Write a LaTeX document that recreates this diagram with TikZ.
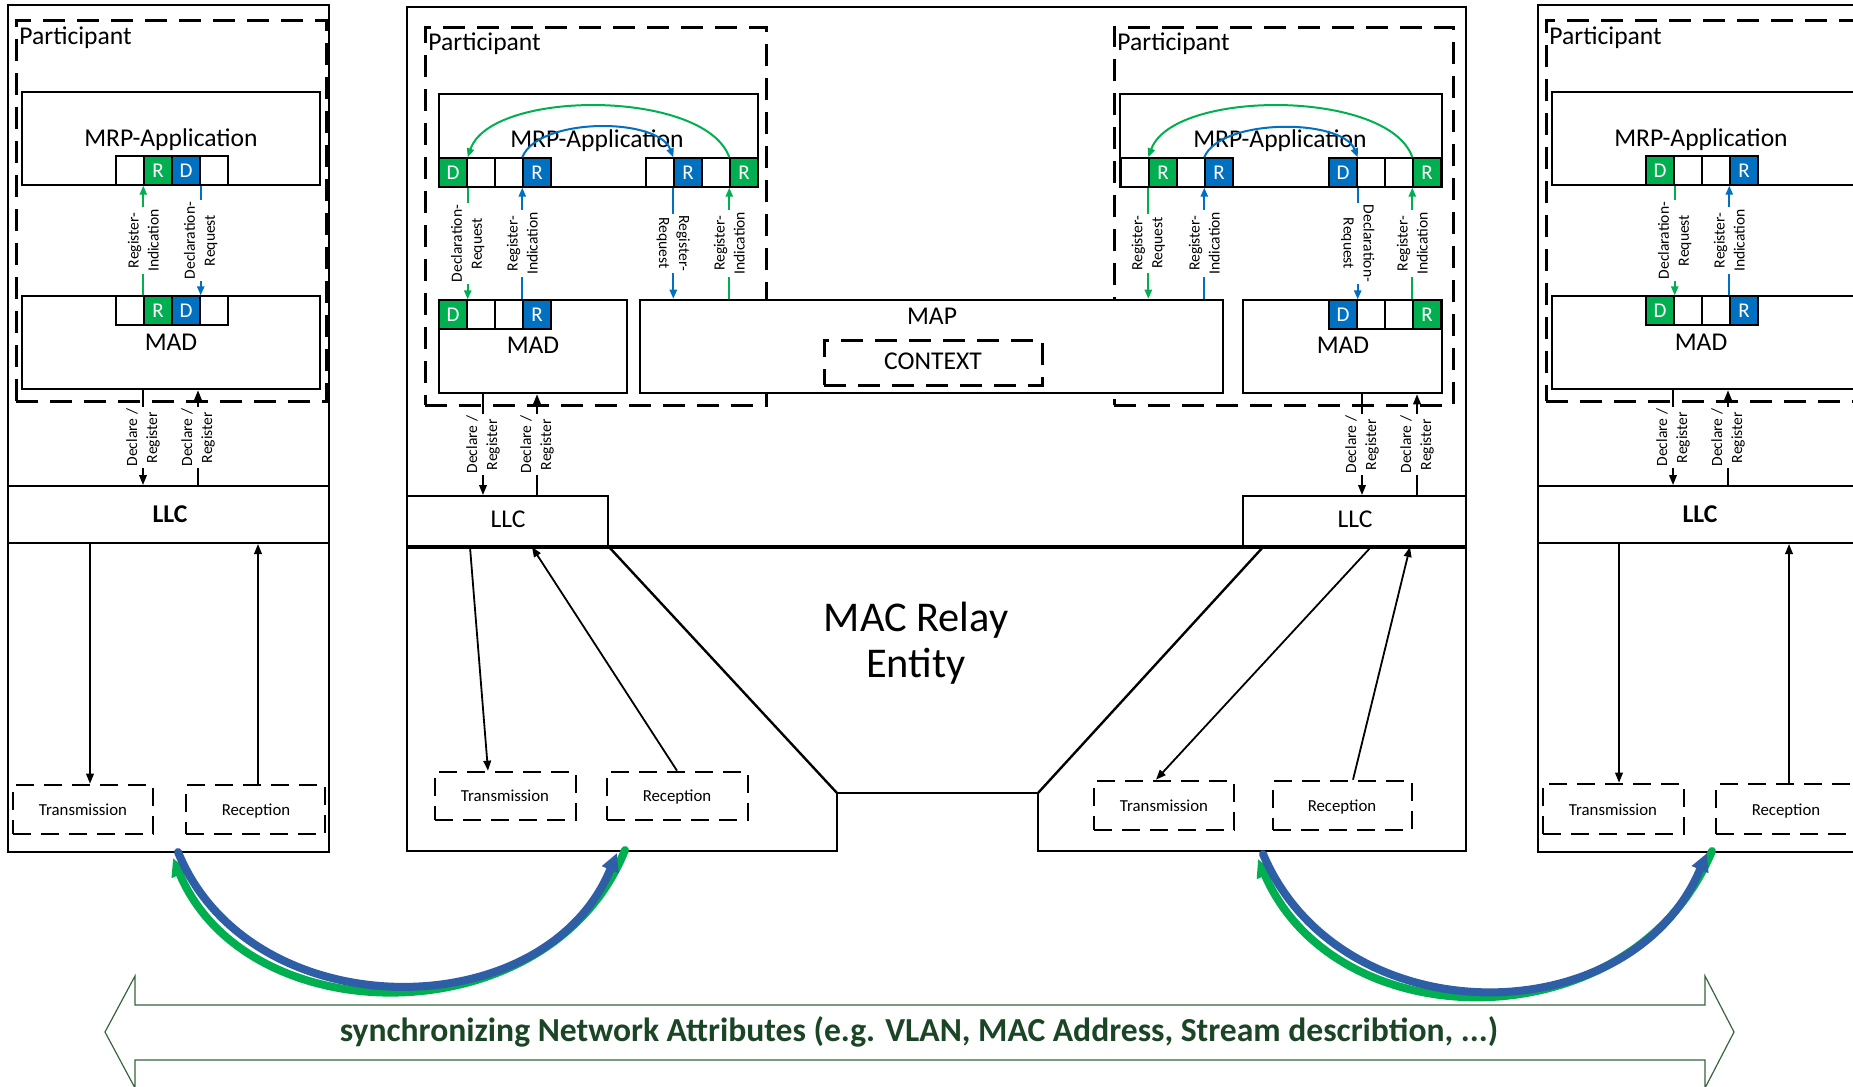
\documentclass[tikz,border=0pt]{standalone}
\usepackage{fontspec}
\setmainfont{Carlito}
\usetikzlibrary{arrows.meta,fit,calc}

\definecolor{mgreen}{RGB}{0,176,80}
\definecolor{mblue}{RGB}{0,112,192}
\definecolor{cblue}{RGB}{46,94,166}
\definecolor{dgreen}{RGB}{27,70,38}
\definecolor{ogreen}{RGB}{56,100,62}

% rectangle node spanning two corners
\newcommand\rbox[6][]{\node[#1,fit={(#3,#4) (#5,#6)}] (#2) {};}

\begin{document}
\begin{tikzpicture}[x=0.5pt,y=-0.5pt,
  frame/.style={draw,line width=1pt,inner sep=0pt},
  layer/.style={draw,line width=1.3pt,fill=white,inner sep=0pt},
  dbox/.style={draw,line width=1.5pt,dash pattern=on 11pt off 6pt,inner sep=0pt},
  sdbox/.style={draw,line width=1.3pt,dash pattern=on 9pt off 5pt,inner sep=0pt},
  cell/.style={draw,line width=0.7pt,minimum width=14pt,minimum height=14.5pt,inner sep=0pt,
    text=white,font=\fontsize{10.5}{12}\selectfont},
  lab/.style={inner sep=0pt,font=\fontsize{12.8}{15}\selectfont},
  blab/.style={inner sep=0pt,font=\fontsize{12.8}{15}\selectfont\bfseries},
  small/.style={inner sep=0pt,font=\fontsize{8.4}{10}\selectfont},
  vbase/.style={fill=white,align=center,inner sep=1pt,font=\fontsize{7.8}{10}\selectfont},
  vlab/.style={vbase,rotate=90},
  vlabr/.style={vbase,rotate=-90},
  garr/.style={draw=mgreen,line width=1pt,-{Triangle[length=4.5pt,width=3.6pt]}},
  barr/.style={draw=mblue,line width=1pt,-{Triangle[length=4.5pt,width=3.6pt]}},
  karr/.style={draw=black,line width=0.9pt,-{Triangle[length=5pt,width=3.8pt]}},
  sync/.style={line width=4pt,line cap=round,-{Triangle[length=9pt,width=8.5pt]}},
]
\useasboundingbox (0,0) rectangle (1853,1087);
\fill[white] (0,0) rectangle (1853,1087);
\clip (0,0) rectangle (1853,1087);

% ================= left end station =================
\rbox[frame]{panelL}{8}{5}{329}{852}
\rbox[dbox]{partL}{16}{20}{326}{401}
\node[lab,anchor=base west] (partLt) at (19,44) {Participant};
\rbox[layer]{appL}{22}{92}{320}{185}
\node[lab,anchor=base] (appLt) at (171,146) {MRP-Application};
\rbox[layer]{madL}{22}{296}{320}{389}
\node[lab,anchor=base] (madLt) at (171,350) {MAD};
\rbox[frame,fill=white]{llcL}{8}{486}{329}{543}
\node[blab,anchor=base] (llcLt) at (170,522) {LLC};
\rbox[sdbox]{txL}{13}{785}{153}{834}
\node[small,anchor=base] (txLt) at (83,815) {Transmission};
\rbox[sdbox]{rxL}{186}{785}{325}{834}
\node[small,anchor=base] (rxLt) at (256,815) {Reception};
\foreach \k/\f/\t in {0/white/,1/mgreen/R,2/mblue/D,3/white/}{
  \node[cell,fill=\f] (la\k) at (130+28*\k,170.5) {\t};
  \node[cell,fill=\f] (lm\k) at (130+28*\k,310.5) {\t};
}
\draw[garr] (lm1.north west) -- node[vlab]{Register-\\Indication} (la1.south west);
\draw[barr] (la2.south east) -- node[vlab]{Declaration-\\Request} (lm2.north east);
\draw[karr] (143,0 |- madL.south) -- node[vlab]{Declare /\\Register} (143,0 |- llcL.north);
\draw[karr] (198,0 |- llcL.north) -- node[vlab]{Declare /\\Register} (198,0 |- madL.south);
\draw[karr] (90,0 |- llcL.south) -- (90,0 |- txL.north);
\draw[karr] (258,0 |- rxL.north) -- (258,0 |- llcL.south);

% ================= right end station =================
\rbox[frame]{panelR}{1538}{5}{1870}{852}
\rbox[dbox]{partR}{1546}{20}{1870}{401}
\node[lab,anchor=base west] (partRt) at (1549,44) {Participant};
\rbox[layer]{appR}{1552}{92}{1870}{185}
\node[lab,anchor=base] (appRt) at (1701,146) {MRP-Application};
\rbox[layer]{madR}{1552}{296}{1870}{389}
\node[lab,anchor=base] (madRt) at (1701,350) {MAD};
\rbox[frame,fill=white]{llcR}{1538}{486}{1870}{543}
\node[blab,anchor=base] (llcRt) at (1700,522) {LLC};
\rbox[sdbox]{txR}{1543}{784}{1684}{834}
\node[small,anchor=base] (txRt) at (1613,815) {Transmission};
\rbox[sdbox]{rxR}{1716}{784}{1856}{834}
\node[small,anchor=base] (rxRt) at (1786,815) {Reception};
\foreach \k/\f/\t in {0/mgreen/D,1/white/,2/white/,3/mblue/R}{
  \node[cell,fill=\f] (pa\k) at (1660+28*\k,170.5) {\t};
  \node[cell,fill=\f] (pm\k) at (1660+28*\k,310.5) {\t};
}
\draw[garr] (pa0.south east) -- node[vlab]{Declaration-\\Request} (pm0.north east);
\draw[barr] (pm3.north west) -- node[vlab]{Register-\\Indication} (pa3.south west);
\draw[karr] (1673,0 |- madR.south) -- node[vlab]{Declare /\\Register} (1673,0 |- llcR.north);
\draw[karr] (1728,0 |- llcR.north) -- node[vlab]{Declare /\\Register} (1728,0 |- madR.south);
\draw[karr] (1619,0 |- llcR.south) -- (1619,0 |- txR.north);
\draw[karr] (1789,0 |- rxR.north) -- (1789,0 |- llcR.south);

% ================= bridge =================
\draw[line width=1.2pt] (407,7) -- (1466,7) -- (1466,851) -- (1038,851) -- (1038,793)
  -- (837,793) -- (837,851) -- (407,851) -- cycle;
\rbox[dbox]{partC}{425}{27}{766}{405}
\node[lab,anchor=base west] (partCt) at (428,50) {Participant};
\rbox[dbox]{partCR}{1114}{27}{1453}{405}
\node[lab,anchor=base west] (partCRt) at (1117,50) {Participant};
\rbox[layer]{appC}{439}{94}{758}{187}
\node[lab,anchor=base] (appCt) at (597,147) {MRP-Application};
\rbox[layer]{appCR}{1120}{94}{1442}{187}
\node[lab,anchor=base] (appCRt) at (1280,147) {MRP-Application};
\rbox[layer]{madC}{439}{300}{627}{393}
\node[lab,anchor=base] (madCt) at (533,353) {MAD};
\rbox[layer]{madCR}{1243}{300}{1442}{393}
\node[lab,anchor=base] (madCRt) at (1343,353) {MAD};
\rbox[layer]{map}{640}{300}{1223}{393}
\node[lab,anchor=base] (mapt) at (932,324) {MAP};
\rbox[dbox]{ctx}{824}{340}{1042}{385}
\node[lab,anchor=base] (ctxt) at (933,369) {CONTEXT};
\rbox[frame,fill=white]{llcC}{407}{496}{608}{546}
\node[lab,anchor=base] (llcCt) at (508,527) {LLC};
\rbox[frame,fill=white]{llcCR}{1243}{496}{1466}{546}
\node[lab,anchor=base] (llcCRt) at (1355,527) {LLC};
\draw[line width=1.6pt] (llcC.south west) -- (llcCR.south east);
\draw[line width=1.2pt] (llcC.south east) -- (837,793);
\draw[line width=1.2pt] (1264,546) -- (1038,793);
\node[inner sep=0pt,align=center,font=\fontsize{21.2}{23}\selectfont] (relay) at (916,643) {MAC Relay\\Entity};
\rbox[sdbox]{txC}{435}{772}{576}{820}
\node[small,anchor=base] (txCt) at (505,801) {Transmission};
\rbox[sdbox]{rxC}{607}{772}{748}{820}
\node[small,anchor=base] (rxCt) at (677,801) {Reception};
\rbox[sdbox]{txCR}{1094}{781}{1234}{830}
\node[small,anchor=base] (txCRt) at (1164,811) {Transmission};
\rbox[sdbox]{rxCR}{1273}{781}{1412}{830}
\node[small,anchor=base] (rxCRt) at (1342,811) {Reception};

% attribute cells
\foreach \k/\f/\t in {0/mgreen/D,1/white/,2/white/,3/mblue/R}{
  \node[cell,fill=\f] (ca\k) at (453+28*\k,172.5) {\t};
  \node[cell,fill=\f] (cm\k) at (453+28*\k,314.5) {\t};
}
\foreach \k/\f/\t in {4/white/,5/mblue/R,6/white/,7/mgreen/R}{
  \node[cell,fill=\f] (ca\k) at (548+28*\k,172.5) {\t};
}
\foreach \k/\f/\t in {0/white/,1/mgreen/R,2/white/,3/mblue/R}{
  \node[cell,fill=\f] (ra\k) at (1135+28*\k,172.5) {\t};
}
\foreach \k/\f/\t in {4/mblue/D,5/white/,6/white/,7/mgreen/R}{
  \node[cell,fill=\f] (ra\k) at (1231+28*\k,172.5) {\t};
}
\foreach \k/\f/\t in {0/mblue/D,1/white/,2/white/,3/mgreen/R}{
  \node[cell,fill=\f] (rm\k) at (1343+28*\k,314.5) {\t};
}

% propagation inside the applications
\draw[garr] (ca7.north west) .. controls (705,89) and (491,89) .. (ca0.north east);
\draw[barr] (ca3.north west) .. controls (538,117) and (658,117) .. (ca5.north west);
\draw[garr] (ra7.north west) .. controls (1389,89) and (1173,89) .. (ra1.north west);
\draw[barr] (ra3.north west) .. controls (1220,118) and (1342,118) .. (ra4.north east);

% service primitives
\draw[garr] (ca0.south east) -- node[vlab]{Declaration-\\Request} (cm0.north east);
\draw[barr] (cm3.north west) -- node[vlab]{Register-\\Indication} (ca3.south west);
\draw[barr] (ca5.south west) -- node[vlabr]{Register-\\Request} (ca5.south west |- map.north);
\draw[garr] (ca7.south west |- map.north) -- node[vlab]{Register-\\Indication} (ca7.south west);
\draw[garr] (ra1.south west) -- node[vlab]{Register-\\Request} (ra1.south west |- map.north);
\draw[barr] (ra3.south west |- map.north) -- node[vlab]{Register-\\Indication} (ra3.south west);
\draw[barr] (ra4.south east) -- node[vlabr]{Declaration-\\Request} (rm0.north east);
\draw[garr] (rm3.north west) -- node[vlab]{Register-\\Indication} (ra7.south west);

\draw[karr] (483,0 |- madC.south) -- node[vlab]{Declare /\\Register} (483,0 |- llcC.north);
\draw[karr] (537,0 |- llcC.north) -- node[vlab]{Declare /\\Register} (537,0 |- madC.south);
\draw[karr] (1362,0 |- madCR.south) -- node[vlab]{Declare /\\Register} (1362,0 |- llcCR.north);
\draw[karr] (1417,0 |- llcCR.north) -- node[vlab]{Declare /\\Register} (1417,0 |- madCR.south);

\draw[karr] (470,0 |- llcC.south) -- (488,0 |- txC.north);
\draw[karr] (677,0 |- rxC.north) -- (532,0 |- llcC.south);
\draw[karr] (1371,0 |- llcCR.south) -- (1156,0 |- txCR.north);
\draw[karr] (1353,0 |- rxCR.north) -- (1410,0 |- llcCR.south);

% ================= links between stations =================
\coordinate (bl1) at (178,852);  \coordinate (bl2) at (617,853);
\coordinate (gl1) at (625,850);  \coordinate (gl2) at (173,858);
\coordinate (br1) at (1263,854); \coordinate (br2) at (1707,853);
\coordinate (gr1) at (1712,851); \coordinate (gr2) at (1258,859);
\draw[sync,draw=mgreen] (gl1) .. controls (551,1036) and (248,1036) .. (gl2);
\draw[sync,draw=cblue] (bl1) .. controls (250,1029) and (545,1029) .. (bl2);
\draw[sync,draw=mgreen] (gr1) .. controls (1633,1042) and (1337,1042) .. (gr2);
\draw[sync,draw=cblue] (br1) .. controls (1340,1036) and (1630,1036) .. (br2);

% ================= attribute synchronisation banner =================
\draw[ogreen,line width=0.6pt] (105,1032) -- (135,976) -- (135,1005) -- (1705,1005) -- (1705,976)
  -- (1734,1032) -- (1705,1088) -- (1705,1060) -- (135,1060) -- (135,1088) -- cycle;
\node[inner sep=0pt,text=dgreen,font=\fontsize{16.8}{19}\selectfont\bfseries] (synct) at (919,1032)
  {synchronizing Network Attributes (e.g. VLAN, MAC Address, Stream describtion, ...)};
\end{tikzpicture}
\end{document}
